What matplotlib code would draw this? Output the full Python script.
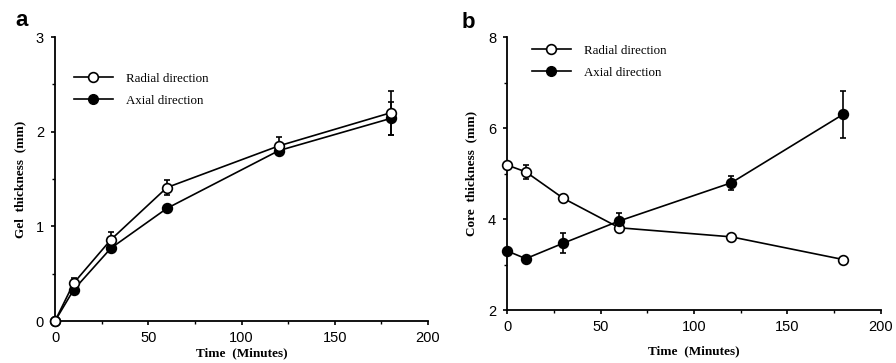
import matplotlib
matplotlib.use("Agg")
import matplotlib.pyplot as plt
from matplotlib.ticker import MultipleLocator
from matplotlib.lines import Line2D

time = [0, 10, 30, 60, 120, 180]

# Panel a: gel thickness (mm)
gel_radial = [0.0, 0.40, 0.86, 1.41, 1.85, 2.20]
gel_radial_err = [0.0, 0.05, 0.08, 0.08, 0.09, 0.23]
gel_axial = [0.0, 0.33, 0.77, 1.19, 1.80, 2.14]
gel_axial_err = [0.0, 0.03, 0.03, 0.03, 0.03, 0.17]

# Panel b: core thickness (mm)
core_radial = [5.19, 5.04, 4.46, 3.81, 3.61, 3.11]
core_radial_err = [0.0, 0.15, 0.03, 0.05, 0.07, 0.03]
core_axial = [3.30, 3.13, 3.47, 3.96, 4.80, 6.31]
core_axial_err = [0.0, 0.0, 0.22, 0.17, 0.15, 0.52]

legend_labels = ["Radial direction", "Axial direction"]

SERIF = "Liberation Serif"
SANS = "Liberation Sans"

fig = plt.figure(figsize=(8.96, 3.63), dpi=100)
ax_a = fig.add_axes([0.0614, 0.1157, 0.4163, 0.7823])
ax_b = fig.add_axes([0.566, 0.146, 0.417, 0.751])

MS = 7

def style(ax, ylim, ymaj, ymin, ylabel):
    ax.set_xlim(0, 200)
    ax.set_ylim(*ylim)
    ax.xaxis.set_major_locator(MultipleLocator(50))
    ax.xaxis.set_minor_locator(MultipleLocator(25))
    ax.yaxis.set_major_locator(MultipleLocator(ymaj))
    ax.yaxis.set_minor_locator(MultipleLocator(ymin))
    for s in ["top", "right"]:
        ax.spines[s].set_visible(False)
    for s in ["left", "bottom"]:
        ax.spines[s].set_linewidth(1.3)
    ax.tick_params(which="major", direction="out", length=3, width=1.2,
                   labelsize=10.5)
    ax.tick_params(axis="x", which="major", pad=4)
    ax.tick_params(axis="y", which="major", pad=5)
    ax.tick_params(which="minor", direction="out", length=2, width=1)
    for lab in ax.get_xticklabels() + ax.get_yticklabels():
        lab.set_fontfamily(SANS)
    ax.set_xlabel("Time  (Minutes)", fontfamily=SERIF, fontweight="bold",
                  fontsize=9.5)
    ax.set_ylabel(ylabel, fontfamily=SERIF, fontweight="bold", fontsize=9.5)

def series(ax, y, err, filled):
    ax.errorbar(time, y, yerr=err, color="black", lw=1.2, elinewidth=1.2,
                capsize=2.5, capthick=1.2, marker="o", markersize=MS,
                markerfacecolor="black" if filled else "white",
                markeredgecolor="black", markeredgewidth=1.2, clip_on=False,
                zorder=3)

# Panel a
series(ax_a, gel_axial, gel_axial_err, True)
series(ax_a, gel_radial, gel_radial_err, False)
style(ax_a, (0, 3), 1, 0.5, "Gel  thickness  (mm)")
ax_a.xaxis.labelpad = 2
ax_a.yaxis.labelpad = 7

# Panel b
series(ax_b, core_radial, core_radial_err, False)
series(ax_b, core_axial, core_axial_err, True)
style(ax_b, (2, 8), 2, 1, "Core  thickness  (mm)")
ax_b.xaxis.labelpad = 8
ax_b.yaxis.labelpad = 8

def legend(ax, loc):
    handles = [
        Line2D([], [], color="black", lw=1.2, marker="o", markersize=MS,
               markerfacecolor="white", markeredgecolor="black",
               markeredgewidth=1.2),
        Line2D([], [], color="black", lw=1.2, marker="o", markersize=MS,
               markerfacecolor="black", markeredgecolor="black"),
    ]
    ax.legend(handles, legend_labels, loc="upper left", bbox_to_anchor=loc,
              frameon=False, handlelength=3.0, handletextpad=1.0,
              labelspacing=0.75, prop={"family": SERIF, "size": 9.3})

legend(ax_a, (0.02, 0.915))
legend(ax_b, (0.035, 1.015))

fig.text(15 / 896, 1 - 20 / 363, "a", fontfamily=SANS, fontweight="bold",
         fontsize=16, va="center", ha="left")
fig.text(462 / 896, 1 - 22 / 363, "b", fontfamily=SANS, fontweight="bold",
         fontsize=16, va="center", ha="left")

fig.savefig("out.png", dpi=100)
